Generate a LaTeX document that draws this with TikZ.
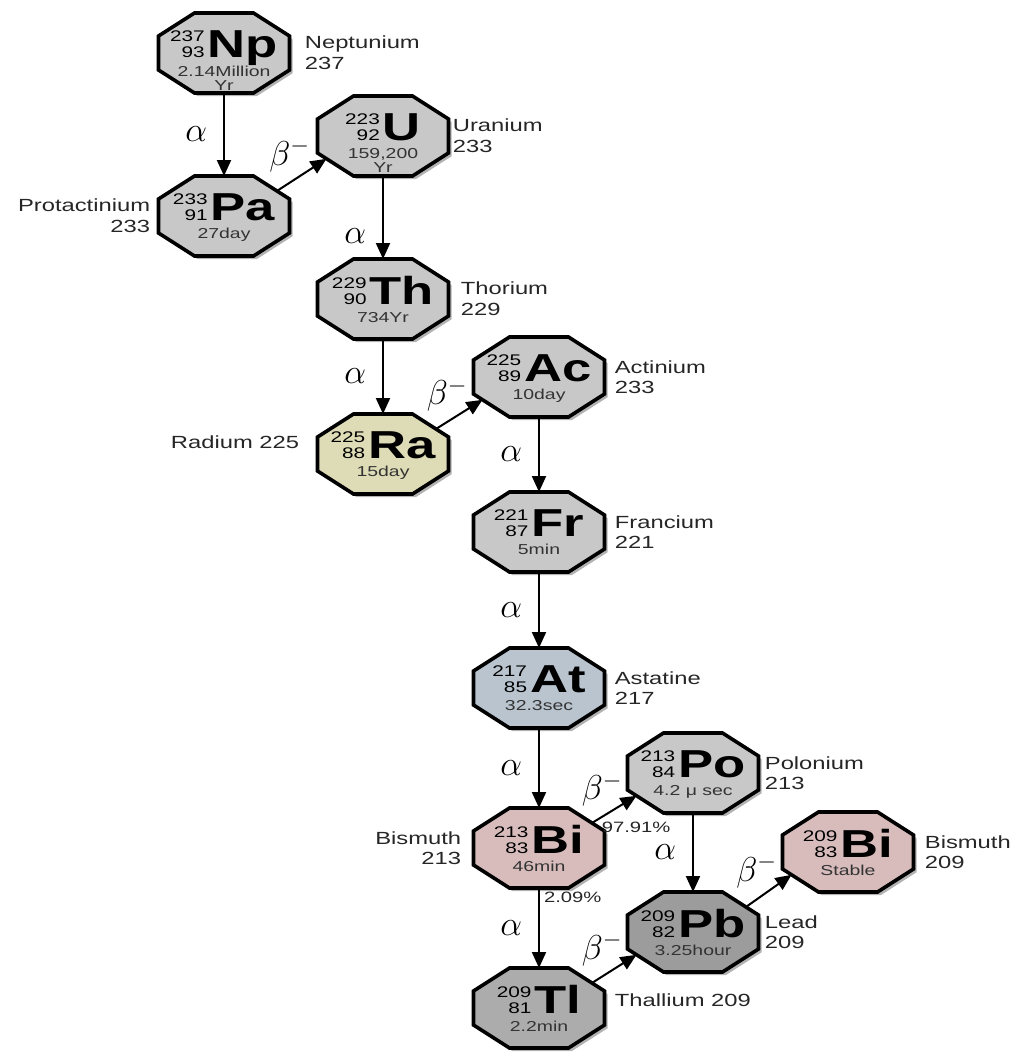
\documentclass[tikz,border=0pt]{standalone}
\usepackage{fontspec}
\setmainfont[FakeStretch=1.35]{Liberation Sans}
\usetikzlibrary{positioning,shadows,arrows.meta}

\definecolor{nucgrey}{HTML}{C8C8C8}
\definecolor{radium}{HTML}{DEDCB6}
\definecolor{astatine}{HTML}{B9C4CF}
\definecolor{bismuth}{HTML}{D8BCBC}
\definecolor{lead}{HTML}{9C9C9C}
\definecolor{thallium}{HTML}{ACACAC}

% mass number, atomic number, symbol, half-life
\newcommand{\nuctext}[4]{%
  \begin{tabular}{@{}c@{}}
    {\fontsize{7.7}{8}\selectfont\begin{tabular}[b]{@{}r@{}}#1\\#2\end{tabular}}%
    \hspace{1.5pt}{\fontsize{19.5}{19.5}\selectfont\bfseries #3}\\[0.8pt]
    {\color{black!80}\fontsize{7.2}{6.5}\selectfont\begin{tabular}[t]{@{}c@{}}#4\end{tabular}}
  \end{tabular}}

% name, position, fill, mass number, atomic number, symbol, half-life
\newcommand{\nuclide}[7]{%
  \node[nucframe] (#1) at (#2) {};
  \filldraw[nucline, fill=#3] ([xshift=18pt]#1.north west) -- ([xshift=-18pt]#1.north east)
    -- ([yshift=-11.5pt]#1.north east) -- ([yshift=11.5pt]#1.south east)
    -- ([xshift=-18pt]#1.south east) -- ([xshift=18pt]#1.south west)
    -- ([yshift=11.5pt]#1.south west) -- ([yshift=-11.5pt]#1.north west) -- cycle;
  \node[nucinfo, anchor=north] (#1info) at ([yshift=-8.5pt]#1.north) {\nuctext{#4}{#5}{#6}{#7}};}

\tikzset{
  nucframe/.style={rectangle, minimum width=65.5pt, minimum height=40pt,
    inner sep=0pt, outer sep=0pt},
  nucline/.style={draw=black, line width=1.8pt,
    drop shadow={shadow xshift=1.6pt, shadow yshift=-1.6pt, opacity=0.6}},
  nucinfo/.style={font=\fontsize{7}{8}\selectfont, inner sep=0pt},
  elname/.style={font=\fontsize{8.8}{10.3}\selectfont, text=black!85,
    inner sep=0pt, align=left},
  decay/.style={-{Triangle[length=8pt,width=7pt]}, line width=1pt},
  alph/.style={font=\fontsize{19}{19}\selectfont, inner sep=0pt},
  bet/.style={font=\fontsize{18}{18}\selectfont, inner sep=0pt},
  ratio/.style={font=\fontsize{7.5}{8}\selectfont, text=black!85, inner sep=0pt}
}

\begin{document}
\begin{tikzpicture}[x=0.5pt,y=-0.5pt]
\useasboundingbox (0,0) rectangle (1018,1057);

% nuclides
\nuclide{np}{224,53}{nucgrey}{237}{93}{Np}{2.14Million\\Yr}
\nuclide{pa}{224,216}{nucgrey}{233}{91}{Pa}{27day}
\nuclide{ur}{383,136}{nucgrey}{223}{92}{U}{159,200\\Yr}
\nuclide{th}{383,299}{nucgrey}{229}{90}{Th}{734Yr}
\nuclide{ra}{383,454}{radium}{225}{88}{Ra}{15day}
\nuclide{ac}{539,377}{nucgrey}{225}{89}{Ac}{10day}
\nuclide{fr}{539,532}{nucgrey}{221}{87}{Fr}{5min}
\nuclide{ast}{539,688}{astatine}{217}{85}{At}{32.3sec}
\nuclide{bi}{539,848}{bismuth}{213}{83}{Bi}{46min}
\nuclide{po}{693,773}{nucgrey}{213}{84}{Po}{4.2 μ sec}
\nuclide{pb}{693,932}{lead}{209}{82}{Pb}{3.25hour}
\nuclide{bis}{848,852}{bismuth}{209}{83}{Bi}{Stable}
\nuclide{tl}{539,1008}{thallium}{209}{81}{Tl}{2.2min}

% names
\node[elname, right=7.5pt of np] (npname) {Neptunium\\237};
\node[elname, align=right, left=4pt of pa] (paname) {Protactinium\\233};
\node[elname, right=2pt of ur] (urname) {Uranium\\233};
\node[elname, right=6pt of th] (thname) {Thorium\\229};
\node[elname, left=9pt of ra, yshift=6pt] (raname) {Radium 225};
\node[elname, right=5pt of ac] (acname) {Actinium\\233};
\node[elname, right=5pt of fr] (frname) {Francium\\221};
\node[elname, right=5pt of ast] (astname) {Astatine\\217};
\node[elname, align=right, left=6pt of bi] (biname) {Bismuth\\213};
\node[elname, right=3pt of po] (poname) {Polonium\\213};
\node[elname, right=3pt of pb] (pbname) {Lead\\209};
\node[elname, right=5.5pt of bis] (bisname) {Bismuth\\209};
\node[elname, right=5pt of tl, yshift=4pt] (tlname) {Thallium 209};

% decays
\draw[decay] (np) -- (pa) node[alph, midway, left=8pt] {$\alpha$};
\draw[decay] ([xshift=-6.3pt,yshift=-7.5pt]pa.north east) -- ([xshift=4.5pt,yshift=8.6pt]ur.south west)
  node[bet, midway, above=1pt, xshift=-6pt] {$\beta^-$};
\draw[decay] (ur) -- (th) node[alph, pos=0.72, left=8pt] {$\alpha$};
\draw[decay] (th) -- (ra) node[alph, midway, left=8pt] {$\alpha$};
\draw[decay] ([xshift=-6.3pt,yshift=-7.5pt]ra.north east) -- ([xshift=4.5pt,yshift=8.6pt]ac.south west)
  node[bet, midway, above=1pt, xshift=-6pt] {$\beta^-$};
\draw[decay] (ac) -- (fr) node[alph, midway, left=8pt] {$\alpha$};
\draw[decay] (fr) -- (ast) node[alph, midway, left=8pt] {$\alpha$};
\draw[decay] (ast) -- (bi) node[alph, midway, left=8pt] {$\alpha$};
\draw[decay] ([xshift=-6.3pt,yshift=-7.5pt]bi.north east) -- ([xshift=4.5pt,yshift=8.6pt]po.south west)
  node[bet, midway, above=1pt, xshift=-6pt] {$\beta^-$}
  node[ratio, pos=0.2, anchor=north west, yshift=-1.5pt] {97.91\%};
\draw[decay] (po) -- (pb) node[alph, midway, left=8pt] {$\alpha$};
\draw[decay] ([xshift=-6.3pt,yshift=-7.5pt]pb.north east) -- ([xshift=4.5pt,yshift=8.6pt]bis.south west)
  node[bet, midway, above=1pt, xshift=-6pt] {$\beta^-$};
\draw[decay] (bi) -- (tl) node[alph, midway, left=8pt] {$\alpha$}
  node[ratio, pos=0.12, right=2pt] {2.09\%};
\draw[decay] ([xshift=-6.3pt,yshift=-7.5pt]tl.north east) -- ([xshift=4.5pt,yshift=8.6pt]pb.south west)
  node[bet, midway, above=1pt, xshift=-6pt] {$\beta^-$};
\end{tikzpicture}
\end{document}
